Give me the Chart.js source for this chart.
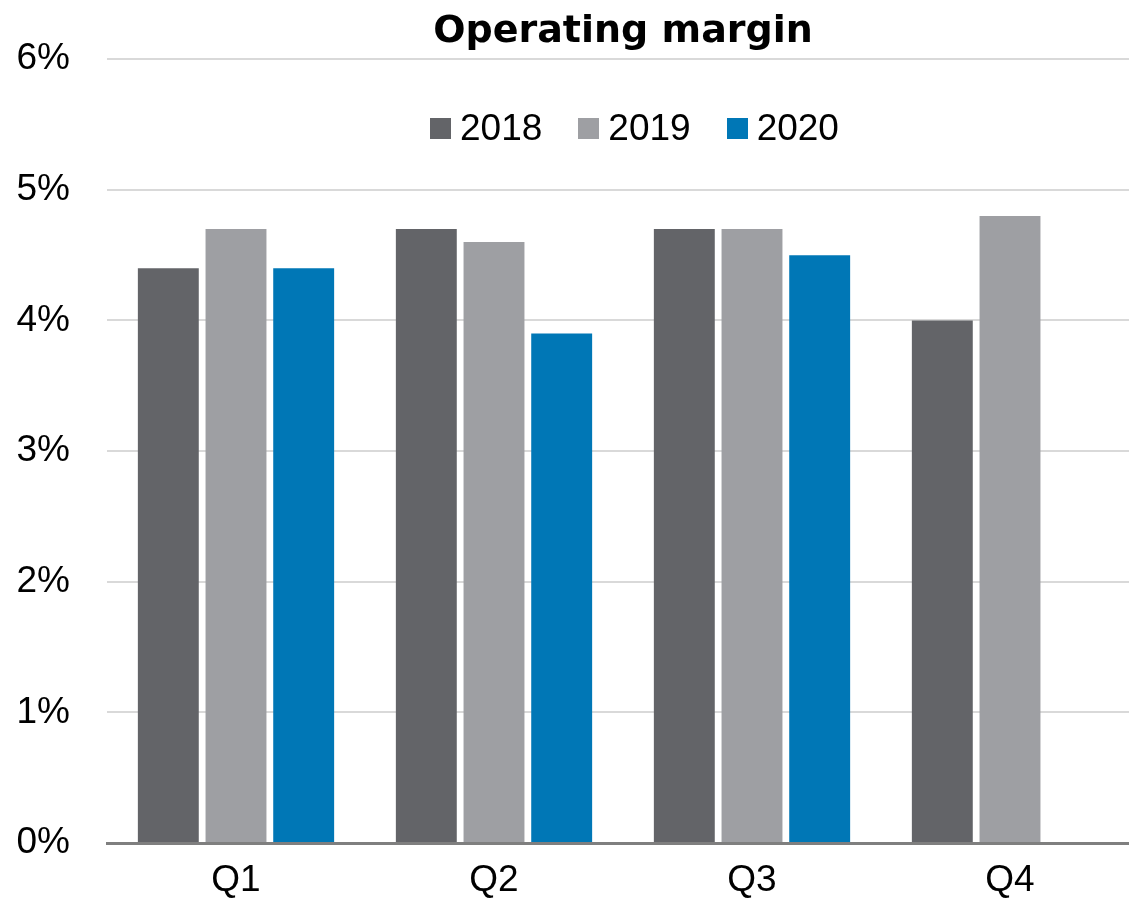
<!DOCTYPE html>
<html>
<head>
<meta charset="utf-8">
<title>Operating margin</title>
<script src="https://cdn.jsdelivr.net/npm/chart.js@4"></script>
<style>
    html, body { margin: 0; padding: 0; background: #fff; }
    /* the plot runs a little past the right edge in the original */
    #clip { width: 1129px; height: 903px; overflow: hidden; }
    #wrap { position: relative; width: 1139px; height: 903px; }
    #legend {
        position: absolute;
        left: 430px;
        top: 106px;
        display: flex;
        gap: 36px;
        font-family: "Liberation Sans", Arial, sans-serif;
        font-size: 37px;
        line-height: 44px;
        color: #000;
    }
    #legend .item { display: flex; align-items: center; }
    #legend .box { width: 21px; height: 21px; margin-right: 9px; }
</style>
</head>
<body>
<div id="clip">
<div id="wrap">
    <canvas id="marginChart"></canvas>
    <div id="legend"></div>
</div>
</div>
<script>
    // Data
    const quarters = ['Q1', 'Q2', 'Q3', 'Q4'];
    const years = ['2018', '2019', '2020'];
    const margin2018 = [4.4, 4.7, 4.7, 4.0];
    const margin2019 = [4.7, 4.6, 4.7, 4.8];
    const margin2020 = [4.4, 3.9, 4.5, null];
    const yTicks = [0, 1, 2, 3, 4, 5, 6];

    const colors = ['#636468', '#9e9fa3', '#0077b6'];
    const tickFont = { family: '"Liberation Sans", Arial, sans-serif', size: 37 };

    const ctx = document.getElementById('marginChart').getContext('2d');
    const chart = new Chart(ctx, {
        type: 'bar',
        data: {
            labels: quarters,
            datasets: [margin2018, margin2019, margin2020].map((values, i) => ({
                label: years[i],
                data: values,
                backgroundColor: colors[i],
                borderWidth: 0,
                barPercentage: 0.9,
                categoryPercentage: 0.787
            }))
        },
        options: {
            responsive: true,
            maintainAspectRatio: false,
            animation: false,
            layout: { padding: 0 },
            plugins: {
                title: {
                    display: true,
                    text: 'Operating margin',
                    fullSize: false,
                    color: '#000',
                    font: { family: '"DejaVu Sans", Verdana, sans-serif', size: 38, weight: 'bold' },
                    padding: { top: 8, bottom: 4 }
                },
                // legend sits inside the plot in the original, built as html below
                legend: { display: false },
                tooltip: { enabled: false }
            },
            scales: {
                x: {
                    afterFit(scale) {
                        scale.height = 60;
                    },
                    grid: { display: false, drawTicks: false },
                    border: { display: true, color: '#7f7f7f', width: 3 },
                    ticks: { color: '#000', font: tickFont, padding: 16 }
                },
                y: {
                    min: yTicks[0],
                    max: yTicks[yTicks.length - 1],
                    afterBuildTicks(scale) {
                        scale.ticks = yTicks.map(v => ({ value: v }));
                    },
                    afterFit(scale) {
                        scale.width = 107;
                    },
                    grid: { color: '#d9d9d9', lineWidth: 2, drawTicks: false },
                    border: { display: false },
                    ticks: {
                        color: '#000',
                        font: tickFont,
                        padding: 37,
                        callback: v => v + '%'
                    }
                }
            }
        }
    });

    // Build legend from the chart's datasets
    const legendEl = document.getElementById('legend');
    chart.data.datasets.forEach(ds => {
        const item = document.createElement('div');
        item.className = 'item';
        const box = document.createElement('span');
        box.className = 'box';
        box.style.background = ds.backgroundColor;
        const text = document.createElement('span');
        text.textContent = ds.label;
        item.appendChild(box);
        item.appendChild(text);
        legendEl.appendChild(item);
    });
</script>
</body>
</html>
